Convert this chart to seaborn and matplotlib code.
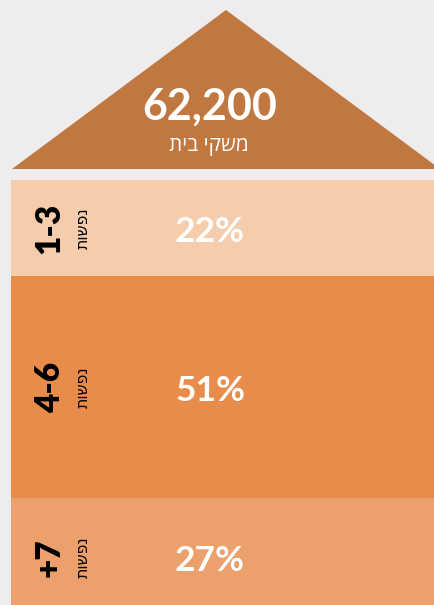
import matplotlib
matplotlib.use("Agg")
import matplotlib.pyplot as plt
import matplotlib.transforms as mtransforms
import seaborn as sns
import numpy as np

# data
total_households = "62,200"
total_label = "משקי בית"
groups = ["1-3", "4-6", "+7"]
group_unit = "נפשות"
shares = [22, 51, 27]
bar_colors = ["#f6cdac", "#e88c4c", "#eca06c"]
roof_color = "#c07740"
bg_color = "#eeecec"

sns.set_theme(style="white")
plt.rcParams["font.family"] = ["Lato", "DejaVu Sans"]


def rtl(s):
    # matplotlib lays text out left to right, so flip Hebrew for display
    return s[::-1]


W, H = 435, 605
fig = plt.figure(figsize=(W / 100, H / 100), dpi=100)
fig.patch.set_facecolor(bg_color)

# stacked bars (house body): top at y=180px, 100% = 436px
left_px, right_px = 11, 440
top_px, full_px = 180, 436
ax = fig.add_axes([left_px / W, 1 - (top_px + full_px) / H,
                   (right_px - left_px) / W, full_px / H])
cum = np.concatenate([[0], np.cumsum(shares)[:-1]])
for g, v, b, c in zip(groups, shares, cum, bar_colors):
    sns.barplot(x=["house"], y=[v], bottom=b, color=c, width=1,
                saturation=1, linewidth=0, ax=ax)
ax.set_xlim(-0.5, 0.5)
ax.set_ylim(100, 0)
ax.axis("off")

ytr = ax.get_yaxis_transform()
pct_tr = mtransforms.offset_copy(ytr, fig=fig, y=-10, units="points")
for g, v, b in zip(groups, shares, cum):
    yc = b + v / 2
    ax.text(0.464, yc, f"{v}%", transform=pct_tr,
            ha="center", va="baseline", color="white", fontsize=25.5,
            fontweight="bold")
    ax.text(0.09, yc, g, transform=ytr, rotation=90,
            ha="center", va="center", color="black", fontsize=24,
            fontweight="heavy")
    ax.text(0.168, yc, rtl(group_unit), transform=ytr,
            rotation=90, ha="center", va="center", color="black",
            fontsize=12.5, family=["DejaVu Sans"], stretch="condensed")

# roof
roof = fig.add_axes([12 / W, 1 - 169 / H, (440 - 12) / W, (169 - 10) / H])
roof.fill([0, 0.5, 1], [0, 1, 0], color=roof_color, lw=0)
roof.set_xlim(0, 1)
roof.set_ylim(0, 1)
roof.axis("off")
roof.text(0.463, 0.39, total_households, ha="center", va="center",
          color="white", fontsize=31, fontweight="bold")
roof.text(0.461, 0.15, rtl(total_label), ha="center", va="center",
          color="white", fontsize=15, family=["Open Sans", "DejaVu Sans"])

fig.savefig("out.png", dpi=100, facecolor=bg_color)
